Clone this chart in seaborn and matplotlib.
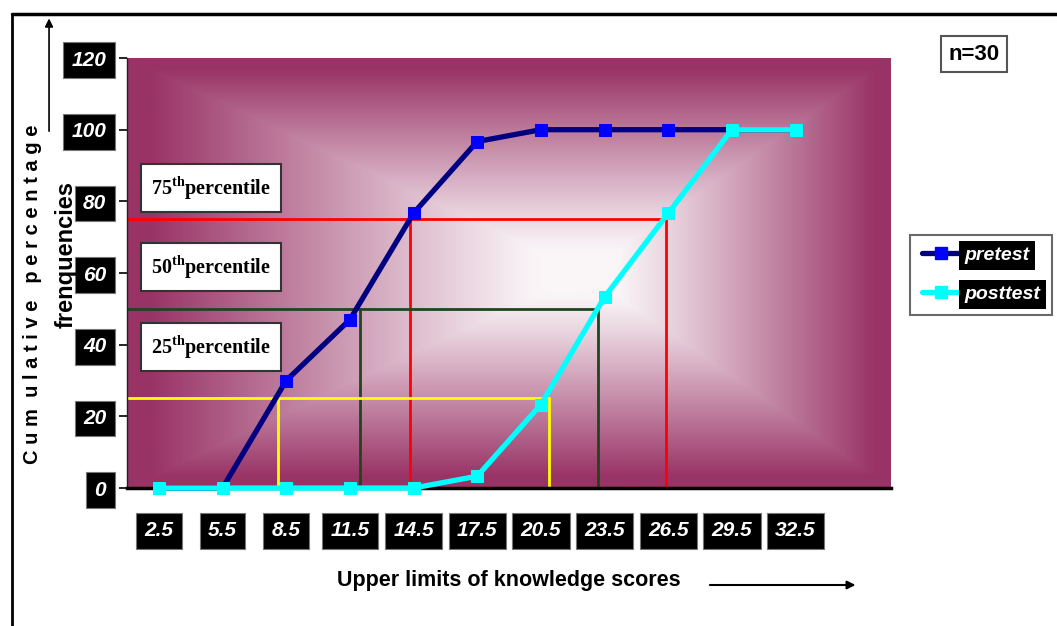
import numpy as np
import pandas as pd
import seaborn as sns
import matplotlib.pyplot as plt
from matplotlib.lines import Line2D

# data
upper_limits = ["2.5", "5.5", "8.5", "11.5", "14.5", "17.5", "20.5", "23.5", "26.5", "29.5", "32.5"]
pretest = [0, 0, 30, 47, 76.7, 96.7, 100, 100, 100, 100, 100]
posttest = [0, 0, 0, 0, 0, 3.3, 23.3, 53.3, 76.7, 100, 100]
y_ticks = [0, 20, 40, 60, 80, 100, 120]

# percentile guide lines: level, colour, where pretest / posttest cross it (category index)
pct_levels = [75, 50, 25]
pct_names = ["75", "50", "25"]
pct_colors = ["#ff0000", "#1e461e", "#ffff00"]
pct_pre_x = [3.95, 3.16, 1.87]
pct_post_x = [7.96, 6.9, 6.12]
sample_label = "n=30"

sns.set_theme(style="white")
narrow = ["Liberation Sans Narrow", "Liberation Sans", "DejaVu Sans"]
plt.rcParams["font.family"] = narrow
plt.rcParams["text.color"] = "black"
plt.rcParams["mathtext.fontset"] = "custom"
plt.rcParams["mathtext.rm"] = "Liberation Serif:bold"

n = len(upper_limits)
pos = list(range(n))
df = pd.DataFrame({"pos": pos * 2,
                   "value": pretest + posttest,
                   "test": ["pretest"] * n + ["posttest"] * n})

fig = plt.figure(figsize=(10.57, 6.26), dpi=100)
ax = fig.add_axes([0.1202, 0.2204, 0.7228, 0.6869])

# background: rectangular gradient, white centre to maroon edges
U, V = np.meshgrid(np.linspace(0, 1, 500), np.linspace(0, 1, 350))
cx, cy = 0.6, 0.5
dx = np.where(U < cx, (cx - U) / cx, (U - cx) / (1 - cx))
dy = np.where(V < cy, (cy - V) / cy, (V - cy) / (1 - cy))
t = np.maximum(dx, dy)
s = np.clip((t - 0.1) / 0.85, 0, 1) ** 1.1
white = np.array([250, 246, 248]) / 255
maroon = np.array([153, 51, 102]) / 255
img = white * (1 - s[..., None]) + maroon * s[..., None]
ax.imshow(img, extent=[-0.5, n + 0.5, 0, 120], origin="lower", aspect="auto", zorder=0)

# percentile lines
for lvl, c, xp, xq in zip(pct_levels, pct_colors, pct_pre_x, pct_post_x):
    ax.plot([-0.5, xq], [lvl, lvl], color=c, lw=2, zorder=2)
    ax.plot([xp, xp], [0, lvl], color=c, lw=2, zorder=2)
    ax.plot([xq, xq], [0, lvl], color=c, lw=2, zorder=2)

# the two ogives
pre = df[df["test"] == "pretest"]
post = df[df["test"] == "posttest"]
sns.lineplot(data=pre, x="pos", y="value", ax=ax, color="#000080", lw=3.8, marker="s",
             markersize=9, markerfacecolor="#0000ff", markeredgecolor="#0000ff",
             clip_on=False, zorder=4)
sns.lineplot(data=post, x="pos", y="value", ax=ax, color="#00ffff", lw=3.8, marker="s",
             markersize=9, markerfacecolor="#00ffff", markeredgecolor="#00ffff",
             clip_on=False, zorder=5)

ax.set_xlim(-0.5, n + 0.5)
ax.set_ylim(0, 120)
ax.set_xlabel("")
ax.set_ylabel("")
ax.set_xticks(pos)
ax.set_xticklabels(upper_limits)
ax.set_xticks(np.arange(-0.5, n + 1, 1), minor=True)
ax.set_yticks(y_ticks)
ax.set_yticklabels([str(v) for v in y_ticks])
ax.tick_params(axis="x", which="major", length=0, pad=24)
ax.tick_params(axis="x", which="minor", length=7, width=1.5, color="black", direction="out")
ax.tick_params(axis="y", length=6, width=1.2, color="black", direction="out", pad=9, left=True)
for side in ["top", "right"]:
    ax.spines[side].set_visible(False)
ax.spines["bottom"].set_linewidth(2.5)
ax.spines["bottom"].set_color("black")
ax.spines["left"].set_linewidth(1)
ax.spines["left"].set_color("#222222")

for lab in ax.get_xticklabels() + ax.get_yticklabels():
    lab.set_color("white")
    lab.set_fontweight("bold")
    lab.set_fontstyle("italic")
    lab.set_fontsize(15)
    lab.set_bbox(dict(facecolor="black", edgecolor="#777777", lw=0.8, boxstyle="square,pad=0.4"))

# percentile boxes
for name, yc in zip(pct_names, [0.6997, 0.5735, 0.4457]):
    fig.text(0.1996, yc, name + r"$^{\mathrm{th}}$" + "percentile", ha="center", va="center",
             family="Liberation Serif", fontweight="bold", fontsize=14.5,
             bbox=dict(facecolor="white", edgecolor="#333333", lw=1.5, boxstyle="square,pad=0.5"))

# axis titles and arrows
fig.text(0.031, 0.53, "C u m  u l a t i v e   p e r c e n t a g e", rotation=90,
         ha="center", va="center", fontweight="bold", fontsize=14.5)
fig.text(0.0625, 0.593, "frenquencies", rotation=90, ha="center", va="center",
         fontweight="bold", fontsize=17)
ax.annotate("", xy=(0.0464, 0.975), xytext=(0.0464, 0.786), xycoords="figure fraction",
            arrowprops=dict(arrowstyle="-|>", color="black", lw=1.2))
fig.text(0.481, 0.073, "Upper limits of knowledge scores", ha="center", va="center",
         fontweight="bold", fontsize=15.5)
ax.annotate("", xy=(0.812, 0.0655), xytext=(0.669, 0.0655), xycoords="figure fraction",
            arrowprops=dict(arrowstyle="-|>", color="black", lw=1.5))

fig.text(0.9215, 0.9137, sample_label, ha="center", va="center", fontweight="bold", fontsize=16,
         bbox=dict(facecolor="white", edgecolor="#555555", lw=1.5, boxstyle="square,pad=0.35"))

# legend
handles = [Line2D([], [], color="#000080", lw=3.8, marker="s", markersize=9,
                  markerfacecolor="#0000ff", markeredgecolor="#0000ff"),
           Line2D([], [], color="#00ffff", lw=3.8, marker="s", markersize=9,
                  markerfacecolor="#00ffff", markeredgecolor="#00ffff")]
leg = fig.legend(handles, ["pretest", "posttest"], loc="upper left",
                 bbox_to_anchor=(0.861, 0.625), frameon=True, fancybox=False,
                 handlelength=2.0, handletextpad=0.2, labelspacing=1.1, borderpad=0.6,
                 borderaxespad=0.0,
                 prop=dict(family=narrow, weight="bold", style="italic", size=14))
leg.get_frame().set_edgecolor("#444444")
leg.get_frame().set_linewidth(1.5)
for txt in leg.get_texts():
    txt.set_color("white")
    txt.set_bbox(dict(facecolor="black", edgecolor="none", boxstyle="square,pad=0.3"))

# outer frame
fig.add_artist(Line2D([12 / 1057, 1], [1 - 14 / 626] * 2, transform=fig.transFigure, color="black", lw=2.5))
fig.add_artist(Line2D([12 / 1057] * 2, [0, 1 - 14 / 626], transform=fig.transFigure, color="black", lw=2))

fig.savefig("out.png", dpi=100)
